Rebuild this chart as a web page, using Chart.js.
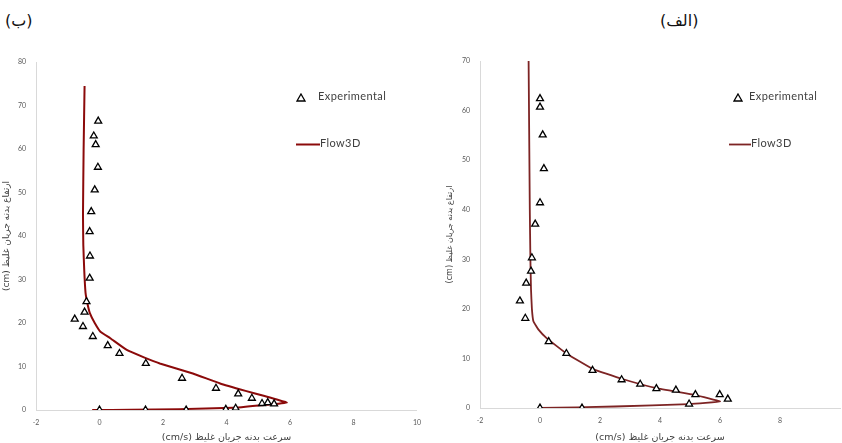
<!DOCTYPE html>
<html lang="fa">
<head>
  <meta charset="UTF-8">
  <title>Flow3D vs Experimental</title>
  <script src="https://cdn.jsdelivr.net/npm/chart.js"></script>
  <style>
    body {
      margin: 0;
      width: 842px;
      height: 443px;
      overflow: hidden;
      background: #fff;
      position: relative;
      font-family: 'DejaVu Sans', sans-serif;
    }
    canvas { position: absolute; top: 0; }
    #chartB { left: 0; }
    #chartA { left: 420px; }
    .panel-title {
      position: absolute;
      top: 11px;
      font-size: 16px;
      color: #111;
    }
    .legend {
      position: absolute;
      font-family: Lato, sans-serif;
      font-size: 11px;
      letter-spacing: 0.4px;
      color: #404040;
      line-height: 12px;
      white-space: nowrap;
    }
    .legend svg { vertical-align: middle; }
  </style>
</head>
<body>
  <div class="panel-title" style="left:5px">(ب)</div>
  <div class="panel-title" style="left:660px">(الف)</div>

  <canvas id="chartB" width="430" height="443"></canvas>
  <canvas id="chartA" width="429" height="443"></canvas>

  <!-- legends (left chart) -->
  <div class="legend" style="left:296px; top:90px">
    <svg width="10" height="9"><polygon points="5,1 9,8 1,8" fill="#fff" stroke="#000" stroke-width="1.3"/></svg><span style="margin-left:12px">Experimental</span>
  </div>
  <div class="legend" style="left:296px; top:137px">
    <svg width="24" height="9"><line x1="0" y1="4.5" x2="24" y2="4.5" stroke="#8b0a0a" stroke-width="2"/></svg>Flow3D
  </div>
  <!-- legends (right chart) -->
  <div class="legend" style="left:733px; top:90px">
    <svg width="10" height="9"><polygon points="5,1 9,8 1,8" fill="#fff" stroke="#000" stroke-width="1.3"/></svg><span style="margin-left:6px">Experimental</span>
  </div>
  <div class="legend" style="left:729px; top:137px">
    <svg width="22" height="9"><line x1="0" y1="4.5" x2="22" y2="4.5" stroke="#7d2424" stroke-width="1.8"/></svg>Flow3D
  </div>

  <script>
    // axis texts
    const xTitle = '(cm/s) سرعت بدنه جریان غلیظ';
    const yTitle = '(cm) ارتفاع بدنه جریان غلیظ';

    // (ب) left chart
    const bExpX = [-0.04, -0.18, -0.12, -0.05, -0.15, -0.26, -0.31, -0.3, -0.31, -0.41, -0.47, -0.78, -0.52, -0.21, 0.26, 0.63, 1.46, 2.6, 3.67, 4.37, 4.8, 5.12, 5.3, 5.5, 0, 1.45, 2.73, 3.98, 4.29];
    const bExpY = [66.4, 63, 61, 55.8, 50.6, 45.6, 41, 35.4, 30.3, 24.9, 22.5, 20.9, 19.2, 16.9, 14.8, 13.0, 10.7, 7.3, 5.0, 3.7, 2.7, 1.5, 1.7, 1.4, 0, 0, 0, 0.15, 0.4];
    const bSimX = [-0.47, -0.5, -0.52, -0.51, -0.48, -0.44, -0.38, -0.3, -0.15, 0.03, 0.34, 0.86, 1.4, 1.9, 2.94, 3.8, 4.6, 5.2, 5.9, 5.1, 4.2, 2.5, 1.0, -0.23];
    const bSimY = [74.5, 60, 45, 38, 32, 27, 24.5, 22.2, 20, 18, 16.5, 13.8, 12.1, 10.7, 8.4, 6.1, 4.4, 3.2, 1.7, 1.1, 0.5, 0.2, 0.05, 0];

    // (الف) right chart
    const aExpX = [0, 0, 0.09, 0.13, 0, -0.16, -0.27, -0.3, -0.46, -0.67, -0.49, 0.29, 0.88, 1.75, 2.72, 3.34, 3.88, 4.53, 5.18, 5.99, 6.26, 0, 1.4, 4.97];
    const aExpY = [62.4, 60.7, 55.1, 48.3, 41.4, 37.1, 30.3, 27.6, 25.2, 21.6, 18.1, 13.4, 11.0, 7.6, 5.7, 4.8, 3.9, 3.6, 2.7, 2.7, 1.8, 0, 0, 0.8];
    const aSimX = [-0.38, -0.36, -0.34, -0.32, -0.3, -0.27, -0.22, -0.05, 0.22, 0.88, 1.75, 2.72, 3.88, 5.18, 6.0, 4.97, 2.5, 0];
    const aSimY = [70, 55, 40, 30, 24, 20, 17.5, 15.8, 14.1, 11, 7.9, 5.9, 4.0, 2.6, 1.3, 0.8, 0.3, 0];

    const xMin = -2, xMax = 10, xStep = 2;
    const bYMax = 80, aYMax = 70, yStep = 10;

    const pts = (xs, ys) => xs.map((x, i) => ({ x: x, y: ys[i] }));

    function makeChart(id, expX, expY, simX, simY, yMax, lineColor, opts) {
      new Chart(document.getElementById(id), {
        type: 'scatter',
        data: {
          datasets: [
            {
              label: 'Flow3D',
              data: pts(simX, simY),
              showLine: true,
              borderColor: lineColor,
              borderWidth: opts.lineWidth,
              pointRadius: 0,
              tension: 0.1,
              order: 2
            },
            {
              label: 'Experimental',
              data: pts(expX, expY),
              pointStyle: 'triangle',
              pointRadius: 4,
              backgroundColor: '#ffffff',
              borderColor: '#000000',
              pointBorderWidth: 1.3,
              order: 1
            }
          ]
        },
        options: {
          responsive: false,
          animation: false,
          layout: { padding: opts.padding },
          plugins: { legend: { display: false }, tooltip: { enabled: false } },
          scales: {
            x: {
              type: 'linear',
              min: xMin,
              max: xMax,
              grid: { display: false, drawTicks: false },
              border: { display: true, color: '#d9d9d9', width: 1 },
              ticks: {
                stepSize: xStep,
                padding: 9,
                color: '#595959',
                font: { family: 'Lato', size: 7 },
                callback: v => (opts.hideLast && v === xMax) ? '' : v
              },
              title: {
                display: true,
                text: xTitle,
                color: '#404040',
                font: { family: 'DejaVu Sans', size: 9.5 },
                padding: { top: 0, bottom: opts.xTitlePad }
              },
              afterFit: s => { s.height = opts.xHeight; }
            },
            y: {
              min: 0,
              max: yMax,
              grid: { display: false, drawTicks: false },
              border: { display: true, color: '#d9d9d9', width: 1 },
              ticks: {
                stepSize: yStep,
                padding: 10,
                color: '#595959',
                font: { family: 'Lato', size: 7 }
              },
              title: {
                display: true,
                text: yTitle,
                color: '#404040',
                font: { family: 'DejaVu Sans', size: opts.yTitleSize },
                padding: { top: 1, bottom: 0 }
              },
              afterFit: s => { s.width = 36; }
            }
          }
        }
      });
    }

    makeChart('chartB', bExpX, bExpY, bSimX, bSimY, bYMax, '#8b0a0a', {
      lineWidth: 2, padding: { top: 62, right: 7, left: 0, bottom: 0 },
      xHeight: 33, xTitlePad: 0, yTitleSize: 9, hideLast: false
    });
    makeChart('chartA', aExpX, aExpY, aSimX, aSimY, aYMax, '#7d2424', {
      lineWidth: 1.8, padding: { top: 61, right: 0, left: 24, bottom: 0 },
      xHeight: 35, xTitlePad: 0, yTitleSize: 8, hideLast: true
    });
  </script>
</body>
</html>
